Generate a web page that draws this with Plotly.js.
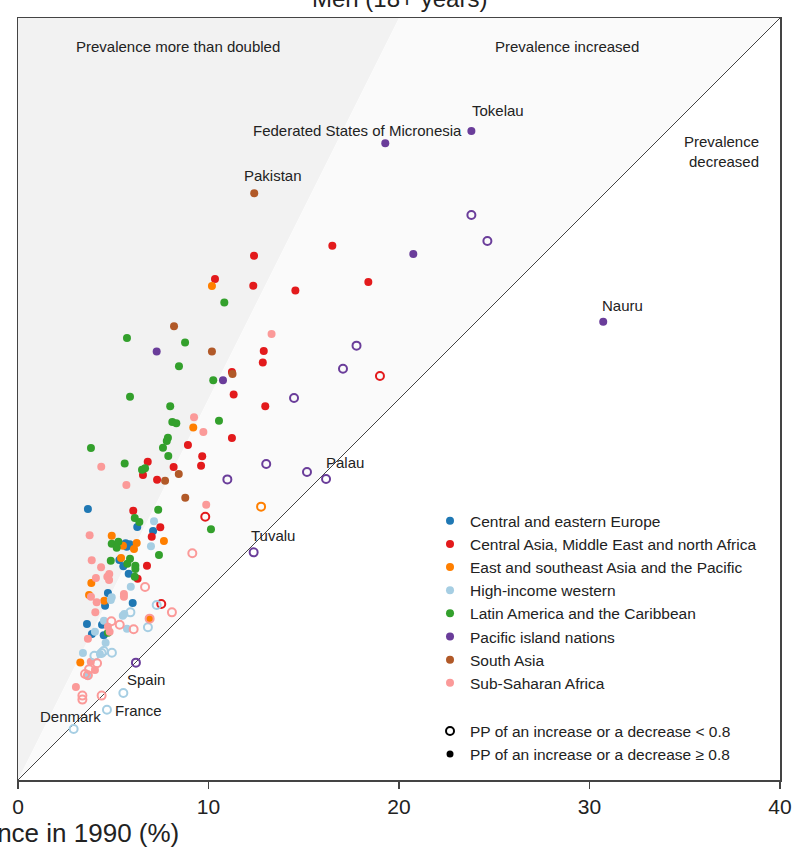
<!DOCTYPE html>
<html>
<head>
<meta charset="utf-8">
<script src="https://cdn.plot.ly/plotly-3.0.1.min.js"></script>
<style>
html,body{margin:0;padding:0;background:#fff;}
#chart{width:796px;height:854px;}
</style>
</head>
<body>
<div id="chart"></div>
<script>
// ---- Data: prevalence in 1990 (x, %) vs prevalence in 2014 (y, %) ----
// filled = posterior probability >= 0.8, open = < 0.8
const regionNames = [
  "Central and eastern Europe",
  "Central Asia, Middle East and north Africa",
  "East and southeast Asia and the Pacific",
  "High-income western",
  "Latin America and the Caribbean",
  "Pacific island nations",
  "South Asia",
  "Sub-Saharan Africa"
];
const regionColors = ["#1f78b4","#e31a1c","#ff7f00","#a6cee3","#33a02c","#6a3d9a","#b15928","#fb9a99"];

const ceeFilledX = [3.67,6.26,7.09,5.65,5.86,5.71,5.32,5.53,5.81,4.72,4.57,6.02,3.62,4.41,3.88,4.50];
const ceeFilledY = [14.23,13.28,13.07,12.43,12.37,12.25,11.55,11.22,10.83,9.82,9.15,9.29,8.19,8.15,7.66,7.60];
const ceeOpenX = [];
const ceeOpenY = [];

const menaFilledX = [16.50,12.39,10.34,12.35,14.56,18.39,12.90,12.85,11.23,11.32,12.98,11.23,8.92,9.67,9.61,6.81,8.17,6.56,7.30,6.05,7.47,7.02,6.77,6.28];
const menaFilledY = [28.05,27.52,26.30,25.95,25.69,26.14,22.52,21.91,21.42,20.23,19.62,17.95,17.59,16.99,16.50,16.71,16.43,16.01,15.76,14.14,13.27,12.77,11.25,10.57];
const menaOpenX = [19.00,9.83,7.52];
const menaOpenY = [21.21,13.82,9.24];

const easFilledX = [10.18,9.20,4.92,7.66,5.51,6.23,6.09,5.41,3.85,3.73,4.53,6.91,3.27];
const easFilledY = [25.93,18.51,12.82,12.55,12.30,12.44,12.13,11.65,10.34,9.71,9.41,8.47,6.17];
const easOpenX = [12.76];
const easOpenY = [14.35];

const hiwFilledX = [7.14,6.98,5.92,4.92,4.87,5.50,5.58,4.51,5.72,4.04,4.60,3.41,4.30,3.66];
const hiwFilledY = [13.58,12.27,10.15,9.59,9.45,8.62,8.71,8.36,7.94,7.78,7.21,6.67,6.61,5.46];
const hiwOpenX = [7.28,5.90,6.82,4.01,4.39,4.50,4.93,5.53,4.67,2.92];
const hiwOpenY = [9.19,8.80,8.02,6.52,6.67,6.77,6.68,4.57,3.69,2.68];

const latFilledX = [10.83,5.72,8.77,8.45,10.25,5.88,7.99,10.55,8.10,8.31,7.87,7.81,7.61,3.83,7.89,5.60,6.51,6.67,10.13,7.36,6.13,6.37,4.92,5.27,5.18,7.40,4.87,5.88,5.74,6.16,6.16,6.13,4.72];
const latFilledY = [25.07,23.20,22.96,21.72,20.98,20.12,19.62,18.86,18.79,18.73,17.97,17.80,17.44,17.43,17.01,16.62,16.29,16.36,13.16,14.19,13.75,13.54,12.40,12.51,12.19,11.81,11.51,11.62,11.35,11.25,11.08,10.67,7.73];
const latOpenX = [];
const latOpenY = [];

const pacFilledX = [23.80,19.28,20.75,30.72,7.28,10.76];
const pacFilledY = [34.07,33.42,27.61,24.06,22.49,20.98];
const pacOpenX = [23.80,24.64,17.77,17.06,14.49,13.03,10.99,15.17,16.17,12.37,6.19];
const pacOpenY = [29.66,28.29,22.80,21.59,20.05,16.59,15.78,16.17,15.80,11.95,6.16];

const saFilledX = [12.40,8.19,10.18,11.26,8.44,7.72,8.78];
const saFilledY = [30.80,23.82,22.50,21.31,16.06,15.71,14.82];
const saOpenX = [];
const saOpenY = [];

const ssaFilledX = [13.31,9.24,9.73,4.37,5.69,9.88,3.76,3.87,4.36,4.79,4.69,4.78,4.09,5.56,5.56,3.83,4.13,4.06,4.72,4.81,3.67,3.82,4.04,3.04];
const ssaFilledY = [23.41,19.04,18.27,16.45,15.49,14.45,12.85,11.53,11.17,10.81,10.67,10.50,10.60,9.76,9.62,9.62,9.33,8.80,8.05,7.78,7.42,6.21,5.77,4.88];
const ssaOpenX = [9.15,6.67,6.91,8.08,4.90,5.34,6.07,4.15,3.73,3.52,3.67,3.38,3.38,4.39];
const ssaOpenY = [11.90,10.13,8.47,8.80,8.33,8.15,7.91,6.13,5.81,5.56,5.50,4.43,4.22,4.43];

const filledX = [ceeFilledX,menaFilledX,easFilledX,hiwFilledX,latFilledX,pacFilledX,saFilledX,ssaFilledX];
const filledY = [ceeFilledY,menaFilledY,easFilledY,hiwFilledY,latFilledY,pacFilledY,saFilledY,ssaFilledY];
const openX = [ceeOpenX,menaOpenX,easOpenX,hiwOpenX,latOpenX,pacOpenX,saOpenX,ssaOpenX];
const openY = [ceeOpenY,menaOpenY,easOpenY,hiwOpenY,latOpenY,pacOpenY,saOpenY,ssaOpenY];

const xTickVals = [0,10,20,30,40];
const ppLabels = ["PP of an increase or a decrease < 0.8","PP of an increase or a decrease \u2265 0.8"];

const FONT = "Liberation Sans, Arial, Helvetica, sans-serif";
const traces = [];
for (let i = 0; i < regionNames.length; i++) {
  traces.push({
    type: "scatter", mode: "markers", name: regionNames[i],
    x: filledX[i], y: filledY[i],
    legendgroup: "regions",
    marker: {color: regionColors[i], size: 8, symbol: "circle", line: {width: 0}}
  });
}
for (let i = 0; i < regionNames.length; i++) {
  traces.push({
    type: "scatter", mode: "markers", name: regionNames[i] + " (open)",
    x: openX[i], y: openY[i], showlegend: false,
    marker: {color: regionColors[i], size: 8, symbol: "circle-open", line: {width: 2}}
  });
}
// legend-only entries for the PP symbols
traces.push({
  type: "scatter", mode: "markers", name: ppLabels[0], x: [null], y: [null],
  legendgroup: "pp",
  marker: {color: "#000", size: 8, symbol: "circle-open", line: {width: 2}}
});
traces.push({
  type: "scatter", mode: "markers", name: ppLabels[1], x: [null], y: [null],
  legendgroup: "pp",
  marker: {color: "#000", size: 7, symbol: "circle", line: {width: 0}}
});

const annFont = {family: FONT, size: 15, color: "#222"};
function lab(text, x, y, opts) {
  return Object.assign({text: text, x: x, y: y, xref: "x", yref: "y", showarrow: false,
    xanchor: "center", yanchor: "middle", font: annFont}, opts || {});
}

const layout = {
  width: 796, height: 854,
  margin: {l: 18, r: 16, t: 18, b: 74, pad: 0},
  paper_bgcolor: "#fff", plot_bgcolor: "#fff",
  showlegend: true,
  hovermode: false,
  font: {family: FONT, color: "#222"},
  xaxis: {
    range: [0, 40], tickvals: xTickVals, ticktext: xTickVals.map(String),
    showgrid: false, zeroline: false,
    showline: true, mirror: true, linecolor: "#444", linewidth: 1.5,
    ticks: "outside", ticklen: 7, tickwidth: 1.5, tickcolor: "#444",
    tickfont: {family: FONT, size: 21, color: "#222"}
  },
  yaxis: {
    range: [0, 40], showgrid: false, zeroline: false,
    showline: true, mirror: true, linecolor: "#444", linewidth: 1.5,
    ticks: "", showticklabels: false
  },
  shapes: [
    {type: "path", xref: "x", yref: "y", path: "M 0 0 L 20 40 L 0 40 Z",
     fillcolor: "#f2f2f2", line: {width: 0}, layer: "below"},
    {type: "path", xref: "x", yref: "y", path: "M 0 0 L 40 40 L 20 40 Z",
     fillcolor: "#fafafa", line: {width: 0}, layer: "below"},
    {type: "line", xref: "x", yref: "y", x0: 0, y0: 0, x1: 40, y1: 40,
     line: {color: "#444", width: 1}, layer: "below"}
  ],
  legend: {
    x: 0.5407, y: 0.362, xanchor: "left", yanchor: "top",
    bgcolor: "rgba(0,0,0,0)", borderwidth: 0,
    traceorder: "grouped", tracegroupgap: 25,
    font: {family: FONT, size: 15.5, color: "#222"},
    itemsizing: "trace"
  },
  annotations: [
    lab("Prevalence more than doubled", 8.4, 38.53),
    lab("Prevalence increased", 28.82, 38.53),
    lab("Prevalence<br>decreased", 39.0, 32.97, {xanchor: "right", align: "right"}),
    lab("Tokelau", 25.2, 35.12),
    lab("Federated States of Micronesia", 17.8, 34.12),
    lab("Pakistan", 13.39, 31.71),
    lab("Nauru", 31.71, 24.93),
    lab("Palau", 17.17, 16.69),
    lab("Tuvalu", 13.39, 12.86),
    lab("Spain", 6.72, 5.30),
    lab("France", 6.30, 3.67),
    lab("Denmark", 2.73, 3.31),
    {text: "Men (18+ years)", xref: "paper", yref: "paper", x: 0.5, y: 1.026,
     xanchor: "center", yanchor: "middle", showarrow: false,
     font: {family: FONT, size: 24, color: "#222"}},
    {text: "Prevalence in 1990 (%)", xref: "paper", yref: "paper", x: 0.2139, y: -0.0696,
     xanchor: "right", yanchor: "middle", showarrow: false,
     font: {family: FONT, size: 26, color: "#222"}}
  ]
};

Plotly.newPlot("chart", traces, layout, {staticPlot: true, displayModeBar: false});
</script>
</body>
</html>
